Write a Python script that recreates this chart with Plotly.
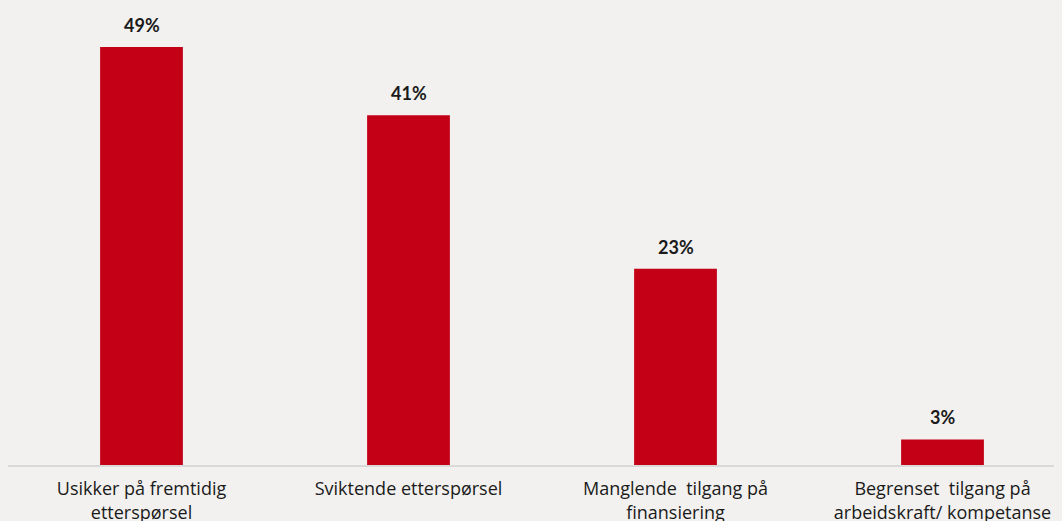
import plotly.graph_objects as go

categories = [
    "Usikker på fremtidig<br>etterspørsel",
    "Sviktende etterspørsel",
    "Manglende  tilgang på<br>finansiering",
    "Begrenset  tilgang på<br>arbeidskraft/ kompetanse",
]
values = [49, 41, 23, 3]
value_labels = ["49%", "41%", "23%", "3%"]

bar_color = "#c30016"
bg = "#f2f1ef"
label_font = "Lato, 'Noto Sans', sans-serif"
tick_font = "'Open Sans', 'Noto Sans', sans-serif"

x_pos = list(range(len(categories)))

fig = go.Figure()
fig.add_trace(go.Bar(
    x=x_pos,
    y=values,
    width=0.31,
    marker=dict(color=bar_color, line=dict(width=0)),
    hoverinfo="skip",
))

for xi, v, lab in zip(x_pos, values, value_labels):
    fig.add_annotation(
        x=xi, y=v, xref="x", yref="y",
        text=f"<b>{lab}</b>",
        showarrow=False,
        yanchor="bottom",
        yshift=9,
        font=dict(family=label_font, size=18, color="#1a1a1a"),
    )

fig.update_layout(
    width=1062, height=521,
    paper_bgcolor=bg, plot_bgcolor=bg,
    margin=dict(l=0, r=0, t=0, b=64, autoexpand=False),
    showlegend=False,
    font=dict(family=tick_font, size=18, color="#1a1a1a"),
    xaxis=dict(
        range=[-0.5, 3.4775],
        tickmode="array",
        tickvals=x_pos,
        ticktext=categories,
        showgrid=False,
        zeroline=False,
        showline=True,
        linecolor="#d9d9d9",
        linewidth=1.5,
        ticks="",
        ticklabelstandoff=7,
        tickfont=dict(family=tick_font, size=18, color="#1a1a1a"),
        fixedrange=True,
    ),
    yaxis=dict(
        range=[0, 53.58],
        visible=False,
        showgrid=False,
        zeroline=False,
        fixedrange=True,
    ),
)

fig.write_html(
    "out.html",
    post_script="document.body.style.backgroundColor='" + bg + "';"
                "document.documentElement.style.backgroundColor='" + bg + "';",
)
